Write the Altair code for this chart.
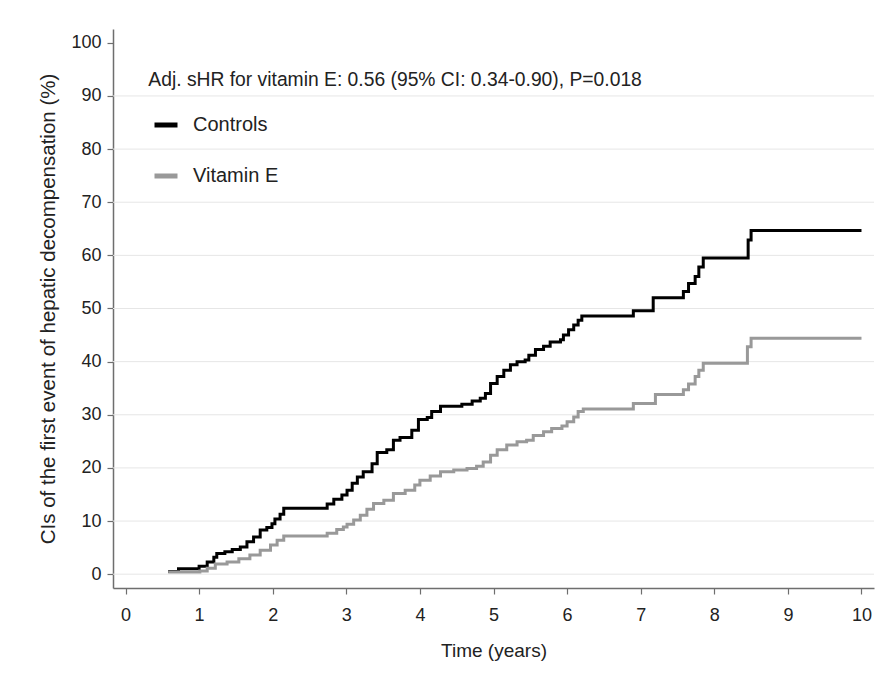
import altair as alt
import pandas as pd

# ---- data ----
controls_t = [0.58, 0.72, 1.00, 1.11, 1.20, 1.24, 1.35, 1.45, 1.56, 1.65, 1.74, 1.83, 1.92, 1.99,
              2.03, 2.10, 2.15, 2.74, 2.83, 2.94, 3.01, 3.08, 3.15, 3.23, 3.35, 3.42, 3.55, 3.64,
              3.73, 3.89, 3.98, 4.10, 4.16, 4.28, 4.57, 4.71, 4.82, 4.89, 4.96, 5.05, 5.14, 5.23,
              5.32, 5.43, 5.48, 5.57, 5.68, 5.77, 5.91, 5.95, 6.02, 6.09, 6.15, 6.20, 6.90, 7.17,
              7.58, 7.65, 7.74, 7.79, 7.85, 8.46, 8.50, 10.0]
controls_v = [0.5, 1.0, 1.5, 2.3, 3.2, 3.9, 4.2, 4.65, 5.1, 6.1, 7.0, 8.3, 8.8, 9.5,
              10.4, 11.3, 12.4, 13.2, 14.1, 14.9, 15.8, 17.1, 18.3, 19.3, 20.8, 22.9, 23.4, 25.2,
              25.7, 27.1, 29.1, 29.5, 30.6, 31.6, 32.0, 32.6, 33.1, 34.0, 35.9, 37.2, 38.4, 39.4,
              40.0, 40.3, 41.2, 42.3, 42.9, 43.7, 44.1, 45.0, 46.0, 46.9, 47.8, 48.6, 49.6, 52.0,
              53.2, 54.7, 56.0, 57.8, 59.5, 62.9, 64.7, 64.7]

vite_t = [0.58, 1.01, 1.11, 1.22, 1.38, 1.54, 1.69, 1.83, 1.97, 2.06, 2.15, 2.74, 2.87, 2.96,
          3.01, 3.10, 3.19, 3.28, 3.37, 3.51, 3.64, 3.80, 3.93, 4.00, 4.14, 4.28, 4.46, 4.64,
          4.77, 4.86, 4.96, 5.05, 5.18, 5.32, 5.45, 5.54, 5.68, 5.79, 5.93, 6.00, 6.09, 6.15,
          6.22, 6.90, 7.20, 7.58, 7.65, 7.74, 7.79, 7.85, 8.45, 8.50, 10.0]
vite_v = [0.4, 0.6, 1.1, 1.9, 2.3, 2.9, 3.6, 4.5, 5.5, 6.4, 7.2, 7.7, 8.4, 8.9,
          9.4, 10.2, 11.1, 12.2, 13.3, 13.9, 15.2, 15.8, 16.8, 17.7, 18.5, 19.3, 19.6, 19.9,
          20.3, 21.1, 22.4, 23.4, 24.3, 24.9, 25.2, 26.1, 26.8, 27.4, 27.9, 28.7, 29.6, 30.6,
          31.1, 32.1, 33.8, 34.7, 35.8, 37.2, 38.4, 39.7, 42.8, 44.4, 44.4]

groups = ["Controls", "Vitamin E"]
group_colors = ["#000000", "#999999"]
x_ticks = list(range(0, 11))
y_ticks = list(range(0, 101, 10))
grid_values = list(range(0, 91, 10))

annotation = "Adj. sHR for vitamin E: 0.56 (95% CI: 0.34-0.90), P=0.018"
annotation_pos = (0.31, 93)

FONT = "Liberation Sans"

df = pd.concat([
    pd.DataFrame({"time": controls_t, "ci": controls_v, "group": "Controls"}),
    pd.DataFrame({"time": vite_t, "ci": vite_v, "group": "Vitamin E"}),
])

xscale = alt.Scale(domain=[-0.17, 10.17], nice=False, zero=False)
yscale = alt.Scale(domain=[-2.6, 102.6], nice=False, zero=False)

yaxis = alt.Axis(values=y_ticks, title="CIs of the first event of hepatic decompensation (%)",
                 grid=False, format="d")
xaxis = alt.Axis(values=x_ticks, title="Time (years)", grid=False, format="d")

grid = alt.Chart(pd.DataFrame({"g": grid_values})).mark_rule(
    color="#e6e6e6", strokeWidth=1
).encode(y=alt.Y("g:Q", scale=yscale, axis=yaxis))

lines = alt.Chart(df).mark_line(interpolate="step-after", strokeWidth=3).encode(
    x=alt.X("time:Q", scale=xscale, axis=xaxis),
    y=alt.Y("ci:Q", scale=yscale, axis=yaxis),
    color=alt.Color("group:N",
                    scale=alt.Scale(domain=groups, range=group_colors),
                    legend=alt.Legend(orient="none", legendX=39, legendY=82, title=None,
                                      symbolType="stroke", symbolStrokeWidth=5, symbolSize=529,
                                      labelFontSize=20, labelFont=FONT, labelColor="#222222",
                                      labelOffset=13, rowPadding=27, padding=0)),
    detail="group:N",
)

text = alt.Chart(pd.DataFrame({"x": [annotation_pos[0]], "y": [annotation_pos[1]], "t": [annotation]})).mark_text(
    align="left", baseline="middle", fontSize=19.3, font=FONT, color="#222222"
).encode(x=alt.X("x:Q", scale=xscale, axis=xaxis), y=alt.Y("y:Q", scale=yscale, axis=yaxis), text="t:N")

chart = alt.layer(grid, lines, text).properties(
    width=761, height=559,
    autosize=alt.AutoSizeParams(type="none"),
    padding={"left": 105, "top": 21, "right": 11, "bottom": 92},
    background="white",
).configure_view(stroke=None).configure_axis(
    domainColor="#6e6e6e", domainWidth=1.5, tickColor="#6e6e6e", tickSize=6, tickWidth=1.2,
    labelFont=FONT, labelFontSize=18, labelColor="#222222", labelPadding=6,
    titleFont=FONT, titleColor="#222222", titleFontWeight="normal",
).configure_axisX(labelPadding=12, titlePadding=17, titleFontSize=19).configure_axisY(
    titlePadding=12, titleFontSize=20.5)

chart.save("out.html", embed_options={"renderer": "svg", "actions": False})
